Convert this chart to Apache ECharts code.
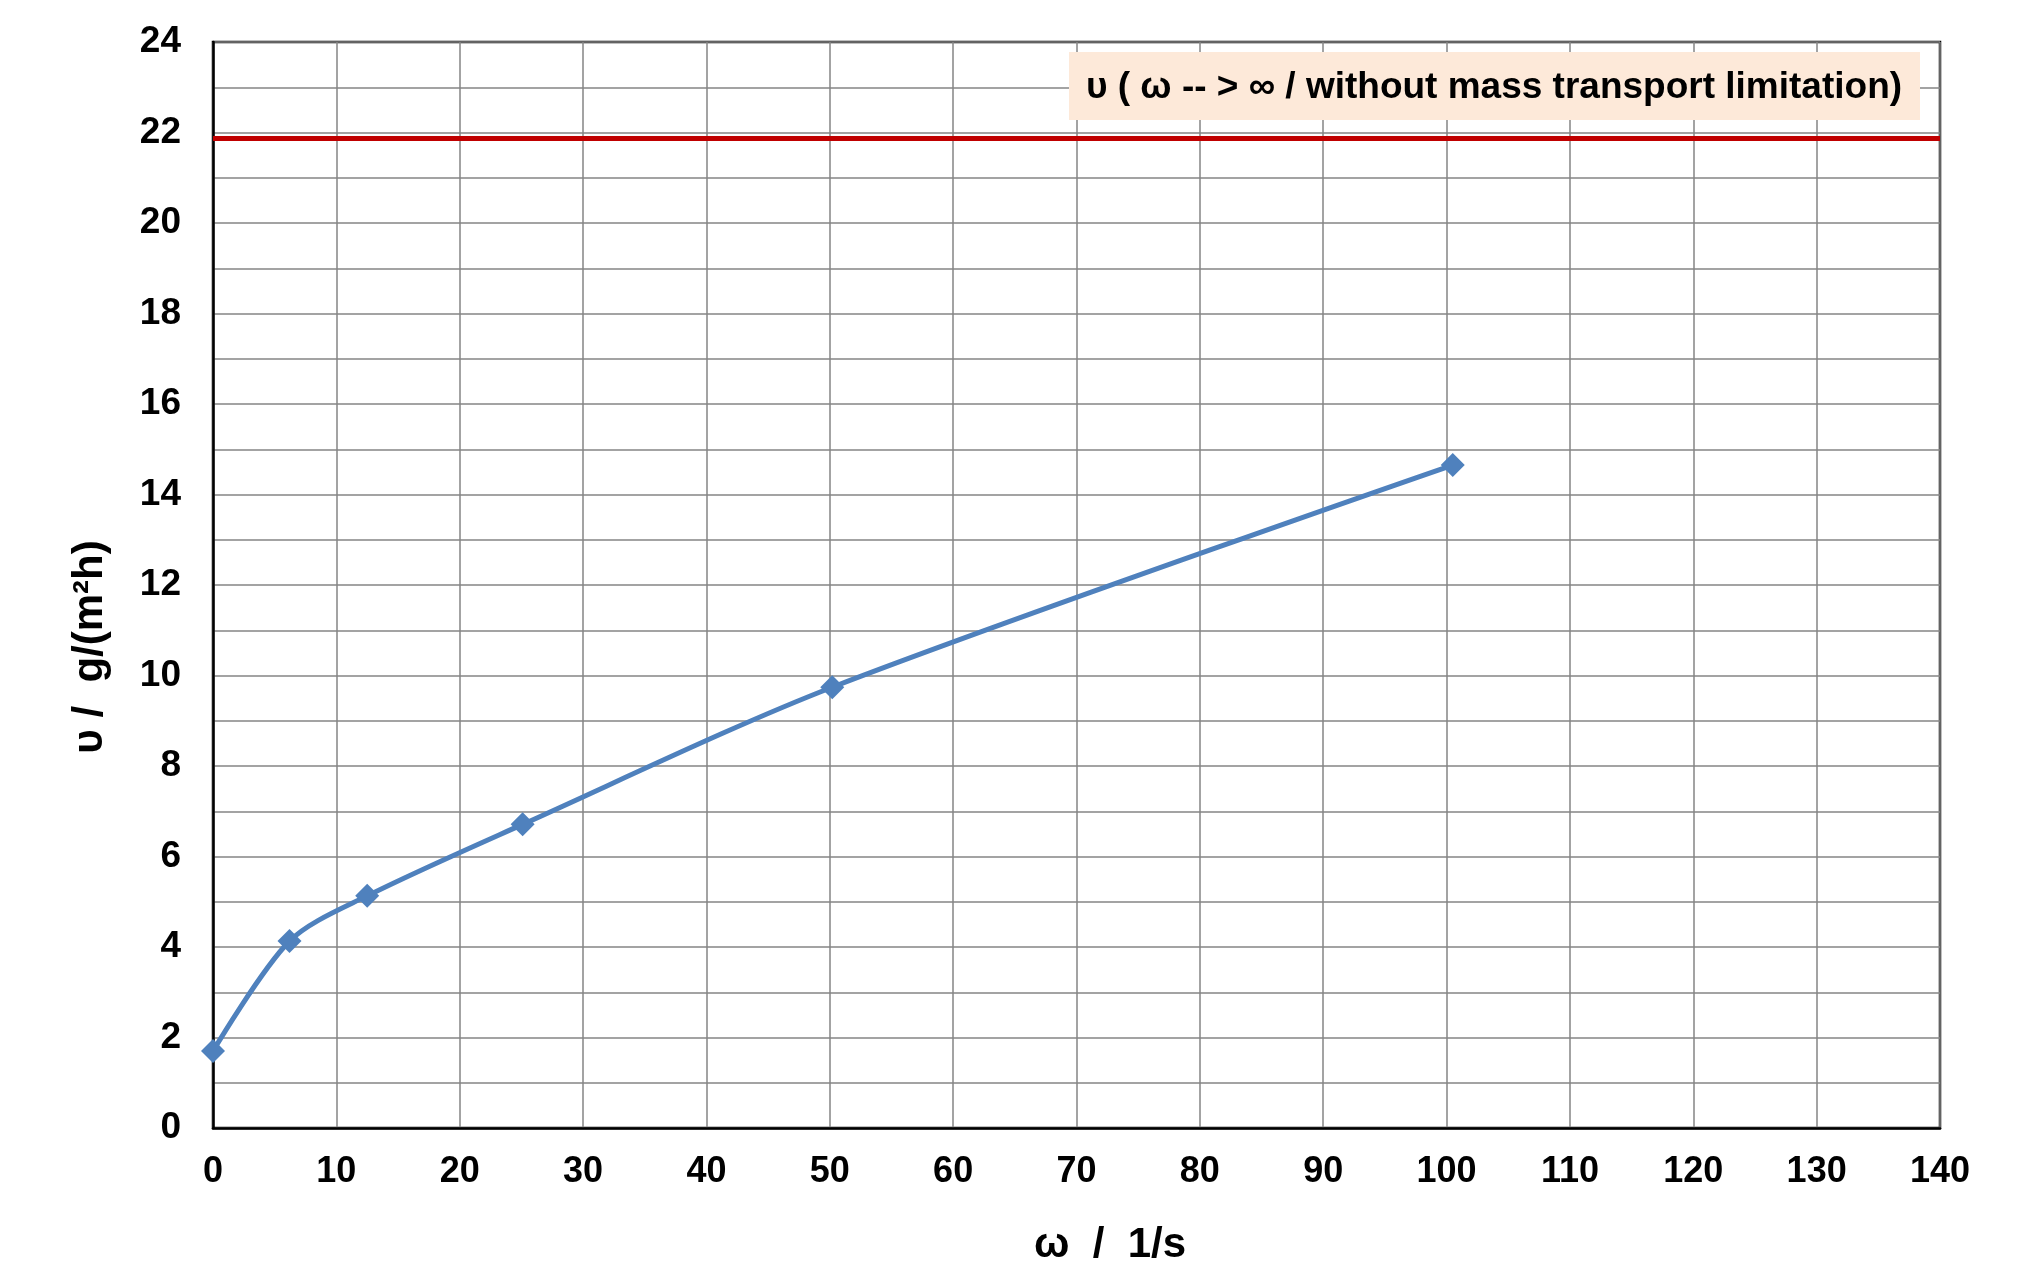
<!DOCTYPE html>
<html>
<head>
<meta charset="utf-8">
<script src="https://cdn.jsdelivr.net/npm/echarts@6/dist/echarts.min.js"></script>
<style>
html,body{margin:0;padding:0;background:#fff;}
#chart{width:2029px;height:1270px;}
</style>
</head>
<body>
<div id="chart"></div>
<script>
// Data
const omegaValues = [0, 6.2, 12.5, 25.1, 50.2, 100.5];
const rateValues = [1.7, 4.13, 5.13, 6.71, 9.74, 14.65];
const limitValue = 21.87;
const limitRange = [0, 140];
const limitLabel = 'υ ( ω -- > ∞ / without mass transport limitation)';
const xAxisTitle = 'ω  /  1/s';
const yAxisTitle = 'υ /  g/(m²h)';

const FONT = '"Liberation Sans", Arial, sans-serif';
const chart = echarts.init(document.getElementById('chart'));

chart.setOption({
  animation: false,
  backgroundColor: '#ffffff',
  grid: {
    left: 213, top: 42, right: 89, bottom: 142,
    show: true, borderColor: '#000000', borderWidth: 2.5, backgroundColor: 'transparent'
  },
  xAxis: {
    type: 'value', min: 0, max: 140, interval: 10,
    axisLine: { show: true, onZero: false, lineStyle: { color: '#000', width: 2.5 } },
    axisTick: { show: false },
    axisLabel: { color: '#000', fontFamily: FONT, fontWeight: 'bold', fontSize: 36, margin: 26 },
    splitLine: { show: true, lineStyle: { color: '#858585', width: 1.5 } }
  },
  yAxis: {
    type: 'value', min: 0, max: 24, interval: 2,
    axisLine: { show: true, onZero: false, lineStyle: { color: '#000', width: 2.5 } },
    axisTick: { show: false },
    minorTick: { show: false, splitNumber: 2 },
    minorSplitLine: { show: true, lineStyle: { color: '#858585', width: 1.5 } },
    axisLabel: { color: '#000', fontFamily: FONT, fontWeight: 'bold', fontSize: 37, margin: 32 },
    splitLine: { show: true, lineStyle: { color: '#858585', width: 1.5 } }
  },
  graphic: [
    {
      type: 'rect', shape: { x: 1069, y: 52, width: 851, height: 68 },
      style: { fill: '#fde9d9' }, z: 10
    },
    {
      type: 'text', x: 1494, y: 88, z: 11,
      style: { text: limitLabel, fontFamily: FONT, fontWeight: 'bold', fontSize: 37,
               fill: '#000', align: 'center', verticalAlign: 'middle' }
    },
    {
      type: 'text', x: 1110, y: 1245, z: 11,
      style: { text: xAxisTitle, fontFamily: FONT, fontWeight: 'bold', fontSize: 42,
               fill: '#000', align: 'center', verticalAlign: 'middle' }
    },
    {
      type: 'text', x: 90, y: 647, rotation: Math.PI / 2, z: 11,
      style: { text: yAxisTitle, fontFamily: FONT, fontWeight: 'bold', fontSize: 42,
               fill: '#000', align: 'center', verticalAlign: 'middle' }
    }
  ],
  series: [
    {
      type: 'line',
      data: limitRange.map(x => [x, limitValue]),
      symbol: 'none',
      lineStyle: { color: '#c00000', width: 5 },
      z: 3
    },
    {
      type: 'line',
      data: omegaValues.map((x, i) => [x, rateValues[i]]),
      smooth: 0.3,
      symbol: 'diamond',
      symbolSize: 24,
      itemStyle: { color: '#4f81bd' },
      lineStyle: { color: '#4f81bd', width: 5 },
      z: 4
    }
  ]
});
</script>
</body>
</html>
